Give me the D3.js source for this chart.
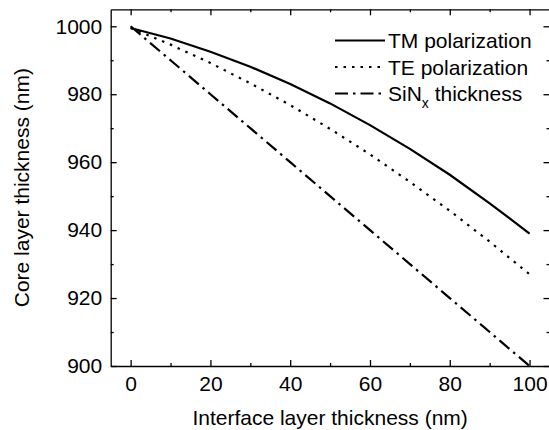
<!DOCTYPE html>
<html>
<head>
<meta charset="utf-8">
<script src="https://cdn.jsdelivr.net/npm/d3@7"></script>
<style>
  html, body { margin: 0; padding: 0; background: #fff; }
  svg text { font-family: "Liberation Sans", Arial, sans-serif; fill: #000; }
</style>
</head>
<body>
<svg id="chart" width="549" height="430"></svg>
<script>
// ---- data ----
const interfaceThickness = [0, 10, 20, 30, 40, 50, 60, 70, 80, 90, 100];
const tmPolarization     = [999.5, 996.4, 992.5, 988.1, 983.0, 977.3, 970.9, 963.9, 956.3, 947.9, 939.0];
const tePolarization     = [999.5, 994.6, 989.2, 983.2, 976.8, 969.8, 962.3, 954.2, 945.7, 936.6, 927.0];
const sinxThickness      = [1000, 990, 980, 970, 960, 950, 940, 930, 920, 910, 900];
const xTicks = [0, 20, 40, 60, 80, 100];
const yTicks = [900, 920, 940, 960, 980, 1000];
const xMinorTicks = [10, 30, 50, 70, 90];
const yMinorTicks = [910, 930, 950, 970, 990];
const seriesNames = ["TM polarization", "TE polarization", "SiN"];

// ---- layout ----
const svg = d3.select("#chart");
const pLeft = 110.7, pRight = 549.5, pTop = 9.3, pBottom = 366;
const x = d3.scaleLinear().domain([-5, 105]).range([pLeft, pRight]);
const y = d3.scaleLinear().domain([900, 1005]).range([pBottom, pTop]);

const fontSize = 21;

function styleAxis(g) {
  g.selectAll(".domain").attr("stroke", "#000").attr("stroke-width", 1.3);
  g.selectAll(".tick line").attr("stroke", "#000").attr("stroke-width", 1.3);
  g.selectAll(".tick text").attr("font-size", fontSize).attr("font-family", "Liberation Sans, Arial, sans-serif").attr("fill", "#000");
}

function addAxis(axisFn, scale, pos, isX, vals, size, labels) {
  const g = svg.append("g").attr("transform", isX ? `translate(0,${pos})` : `translate(${pos},0)`);
  let ax = axisFn(scale).tickValues(vals).tickSizeInner(-size).tickSizeOuter(0);
  if (labels) ax = ax.tickPadding(labels).tickFormat(d3.format("d")); else ax = ax.tickFormat("");
  g.call(ax);
  styleAxis(g);
  return g;
}

addAxis(d3.axisBottom, x, pBottom, true, xTicks, 6, 10);
addAxis(d3.axisBottom, x, pBottom, true, xMinorTicks, 3, 0).select(".domain").remove();
addAxis(d3.axisTop, x, pTop, true, xTicks, 6, 0);
addAxis(d3.axisTop, x, pTop, true, xMinorTicks, 3, 0).select(".domain").remove();
addAxis(d3.axisLeft, y, pLeft, false, yTicks, 6, 8.5);
addAxis(d3.axisLeft, y, pLeft, false, yMinorTicks, 3, 0).select(".domain").remove();
addAxis(d3.axisRight, y, pRight, false, yTicks, 6, 0);
addAxis(d3.axisRight, y, pRight, false, yMinorTicks, 3, 0).select(".domain").remove();

// axis titles
svg.append("text")
  .attr("x", (pLeft + pRight) / 2).attr("y", 425)
  .attr("text-anchor", "middle").attr("font-size", fontSize)
  .text("Interface layer thickness (nm)");
svg.append("text")
  .attr("transform", `translate(29.3,${(pTop + pBottom) / 2}) rotate(-90)`)
  .attr("text-anchor", "middle").attr("font-size", fontSize)
  .text("Core layer thickness (nm)");

// lines
const styles = [
  { dash: null },
  { dash: "2.5,6" },
  { dash: "13,5,2.5,5" }
];
const series = [tmPolarization, tePolarization, sinxThickness];
const line = d3.line().x(d => x(d[0])).y(d => y(d[1]));
series.forEach((vals, i) => {
  const pts = interfaceThickness.map((xv, j) => [xv, vals[j]]);
  svg.append("path")
    .datum(pts)
    .attr("d", line)
    .attr("fill", "none")
    .attr("stroke", "#000")
    .attr("stroke-width", 2.2)
    .attr("stroke-dasharray", styles[i].dash);
});

// legend
const legX1 = 335, legX2 = 385, legTextX = 388, legY0 = 40.5, legDy = 26.5;
seriesNames.forEach((name, i) => {
  const ly = legY0 + i * legDy;
  svg.append("line")
    .attr("x1", legX1).attr("x2", legX2).attr("y1", ly).attr("y2", ly)
    .attr("stroke", "#000").attr("stroke-width", 2.2)
    .attr("stroke-dasharray", styles[i].dash);
  const t = svg.append("text")
    .attr("x", legTextX).attr("y", ly + 7.5)
    .attr("font-size", fontSize);
  if (i === 2) {
    t.append("tspan").text("SiN");
    t.append("tspan").attr("font-size", 14).attr("dy", 7).text("x");
    t.append("tspan").attr("dy", -7).text(" thickness");
  } else {
    t.text(name);
  }
});
</script>
</body>
</html>
